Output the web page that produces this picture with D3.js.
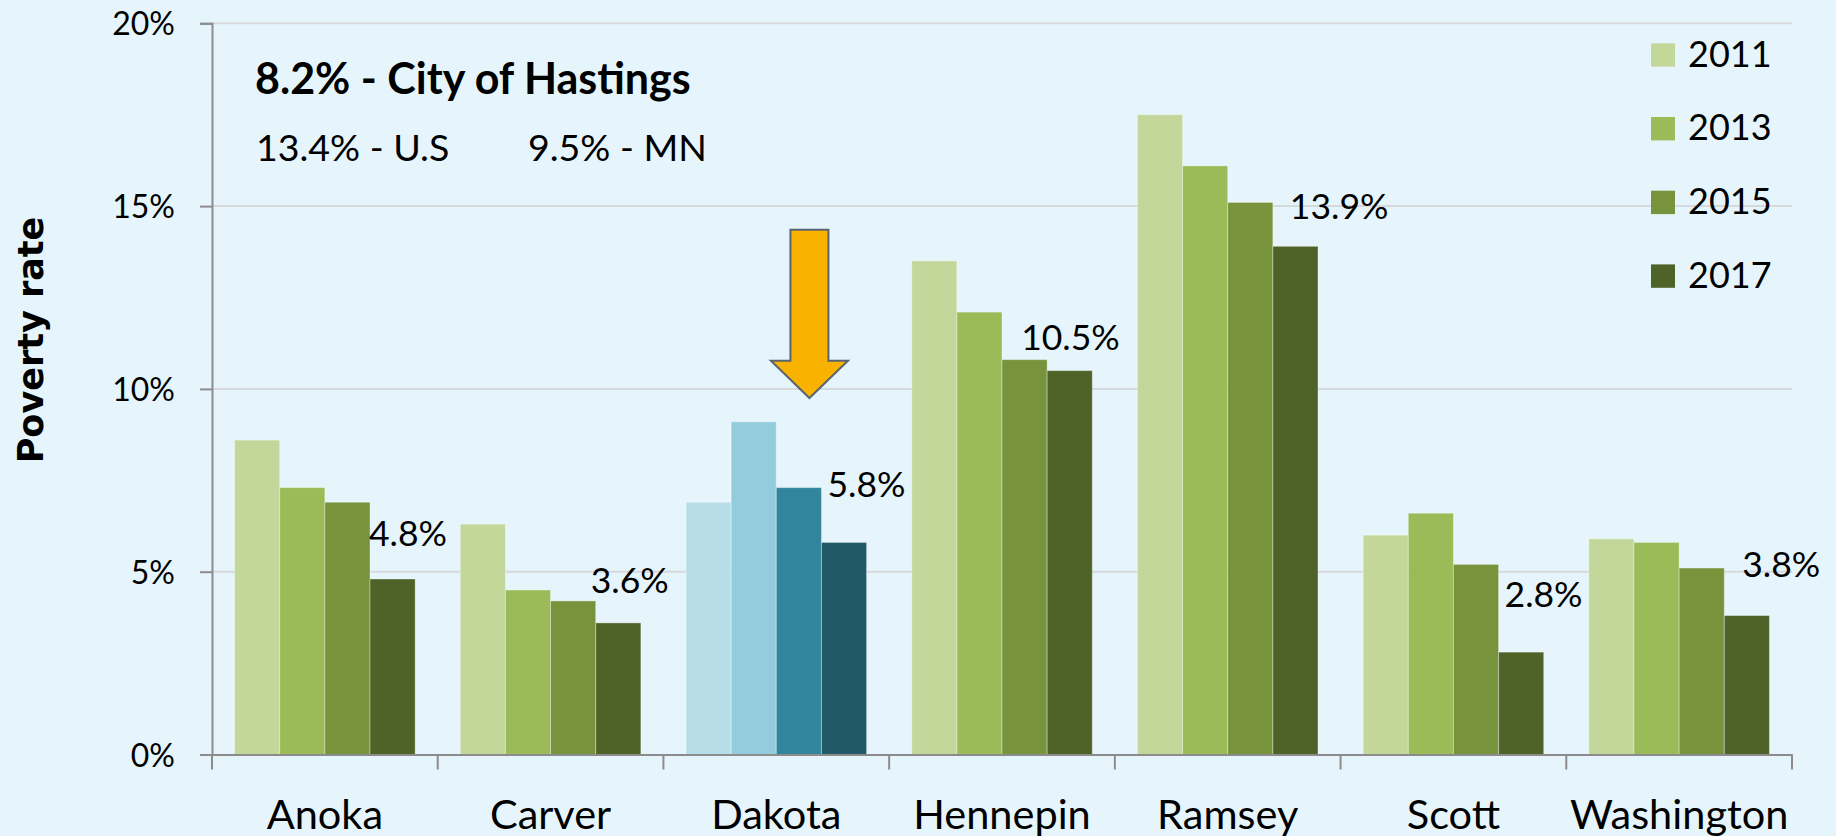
<!DOCTYPE html>
<html>
<head>
<meta charset="utf-8">
<script src="https://cdn.jsdelivr.net/npm/d3@7"></script>
<style>
  body { margin: 0; background: #e6f5fc; }
  svg { display: block; }
  text { font-family: Lato, "Open Sans", sans-serif; fill: #000; }
</style>
</head>
<body>
<div id="chart"></div>
<script>

// data
var counties = ["Anoka", "Carver", "Dakota", "Hennepin", "Ramsey", "Scott", "Washington"];
var years = ["2011", "2013", "2015", "2017"];
var rate2011 = [8.6, 6.3, 6.9, 13.5, 17.5, 6.0, 5.9];
var rate2013 = [7.3, 4.5, 9.1, 12.1, 16.1, 6.6, 5.8];
var rate2015 = [6.9, 4.2, 7.3, 10.8, 15.1, 5.2, 5.1];
var rate2017 = [4.8, 3.6, 5.8, 10.5, 13.9, 2.8, 3.8];
var yTicks = [0, 5, 10, 15, 20];
var highlight = "Dakota";
var cityNote = "8.2% - City of Hastings";
var usNote = "13.4% - U.S";
var mnNote = "9.5% - MN";

var width = 1836, height = 836;
var plotLeft = 212, plotRight = 1792, plotTop = 23.3, plotBottom = 754.5;

var greens = ["#c4d79b", "#9bbb59", "#77933c", "#4f6228"];
var blues = ["#b7dee8", "#93cddd", "#31859c", "#215968"];

// label nudges (dx from 2017 bar left, gap above bar top)
var labelNudge = [[-1, 33], [-5, 30], [6, 45], [-26, 21], [17, 27], [6, 45], [18, 39]];

var series = [rate2011, rate2013, rate2015, rate2017];
var data = counties.map(function(c, i) {
  return { county: c, values: years.map(function(yr, j) { return { year: yr, idx: j, v: series[j][i], county: c }; }) };
});

var svg = d3.select("#chart").append("svg")
  .attr("width", width)
  .attr("height", height);

var x0 = d3.scaleBand().domain(counties).range([plotLeft, plotRight]).padding(0);
var x1 = d3.scaleBand().domain(years).range([0, x0.bandwidth()]).paddingOuter(0.5).paddingInner(0);
var y = d3.scaleLinear().domain([0, 20]).range([plotBottom, plotTop]);

// gridlines
svg.append("g").selectAll("line")
  .data(yTicks.filter(function(d) { return d > 0; }))
  .enter().append("line")
  .attr("x1", plotLeft).attr("x2", plotRight)
  .attr("y1", function(d) { return y(d); })
  .attr("y2", function(d) { return y(d); })
  .style("stroke", "#d6d9db")
  .style("stroke-width", 2);

// y axis
var yAxis = svg.append("g")
  .attr("transform", "translate(" + plotLeft + ",0)")
  .call(d3.axisLeft(y).tickValues(yTicks).tickSize(12).tickPadding(25)
    .tickFormat(function(d) { return d + "%"; }));
yAxis.select(".domain").style("stroke", "#8c8c8c").style("stroke-width", 2);
yAxis.selectAll(".tick line").style("stroke", "#8c8c8c").style("stroke-width", 2);
yAxis.selectAll(".tick text")
  .style("font-family", "Lato, sans-serif")
  .style("font-size", "32px")
  .attr("dy", "0.36em");

// bars
var groups = svg.append("g").selectAll("g")
  .data(data)
  .enter().append("g")
  .attr("transform", function(d) { return "translate(" + x0(d.county) + ",0)"; });

groups.selectAll("rect")
  .data(function(d) { return d.values; })
  .enter().append("rect")
  .attr("x", function(d) { return x1(d.year); })
  .attr("width", x1.bandwidth())
  .attr("y", function(d) { return y(d.v); })
  .attr("height", function(d) { return plotBottom - y(d.v); })
  .style("fill", function(d) { return d.county == highlight ? blues[d.idx] : greens[d.idx]; })
  .style("stroke", "rgba(255,255,255,0.35)")
  .style("stroke-width", 1);

// x axis
var xAxis = svg.append("g")
  .attr("transform", "translate(0," + plotBottom + ")")
  .call(d3.axisBottom(x0).tickSize(0).tickPadding(0));
xAxis.select(".domain").style("stroke", "#8c8c8c").style("stroke-width", 2);
xAxis.selectAll(".tick text")
  .style("font-family", "Lato, sans-serif")
  .style("font-size", "41.5px")
  .attr("dy", null)
  .attr("y", 74);

// category boundary ticks
svg.append("g").selectAll("line")
  .data(d3.range(counties.length + 1))
  .enter().append("line")
  .attr("x1", function(i) { return plotLeft + i * x0.step(); })
  .attr("x2", function(i) { return plotLeft + i * x0.step(); })
  .attr("y1", plotBottom)
  .attr("y2", plotBottom + 15)
  .style("stroke", "#8c8c8c")
  .style("stroke-width", 2);

// 2017 data labels
svg.append("g").selectAll("text")
  .data(data)
  .enter().append("text")
  .attr("x", function(d, i) { return x0(d.county) + x1("2017") + labelNudge[i][0]; })
  .attr("y", function(d, i) { return y(d.values[3].v) - labelNudge[i][1]; })
  .style("font-size", "35.5px")
  .text(function(d) { return d.values[3].v.toFixed(1) + "%"; });

// y axis title
svg.append("text")
  .attr("transform", "translate(43,340) rotate(-90)")
  .attr("text-anchor", "middle")
  .style("font-family", "'DejaVu Sans', sans-serif")
  .style("font-weight", "bold")
  .style("font-size", "35px")
  .text("Poverty rate");

// notes
svg.append("text")
  .attr("x", 255).attr("y", 94)
  .style("font-weight", "bold")
  .style("font-size", "43px")
  .text(cityNote);
svg.append("text")
  .attr("x", 256).attr("y", 161)
  .style("font-size", "37.5px")
  .text(usNote);
svg.append("text")
  .attr("x", 528).attr("y", 161)
  .style("font-size", "37.5px")
  .text(mnNote);

// legend
var legend = svg.append("g").selectAll("g")
  .data(years)
  .enter().append("g")
  .attr("transform", function(d, i) { return "translate(1651," + (43.3 + i * 73.7) + ")"; });
legend.append("rect")
  .attr("width", 24).attr("height", 23.4)
  .style("fill", function(d, i) { return greens[i]; });
legend.append("text")
  .attr("x", 37).attr("y", 23.4)
  .style("font-size", "36px")
  .text(function(d) { return d; });

// arrow pointing at Dakota
var ax = x0(highlight) + 146;
var tipY = y(9.75), headY = y(10.77), topY = y(14.35);
var arrow = [[ax - 19, topY], [ax + 19, topY], [ax + 19, headY], [ax + 38.5, headY],
  [ax, tipY], [ax - 38.5, headY], [ax - 19, headY]];
svg.append("path")
  .attr("d", d3.line()(arrow) + "Z")
  .style("fill", "#f9b200")
  .style("stroke", "#5a6470")
  .style("stroke-width", 2)
  .style("stroke-linejoin", "miter");

</script>
</body>
</html>
